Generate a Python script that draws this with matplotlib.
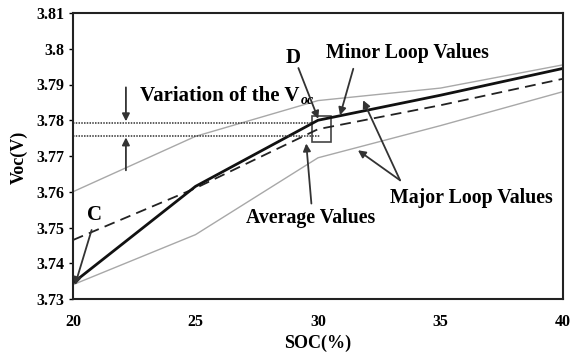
import matplotlib
matplotlib.use("Agg")
import matplotlib.pyplot as plt

# Data
soc = [20, 25, 30, 35, 40]
major_upper = [3.760, 3.7755, 3.7855, 3.789, 3.7955]
major_lower = [3.734, 3.748, 3.7695, 3.7785, 3.788]
minor_loop = [3.7345, 3.7615, 3.7800, 3.787, 3.7945]
average = [3.7465, 3.761, 3.7775, 3.7842, 3.7916]

xticks = [20, 25, 30, 35, 40]
yticks = [3.73, 3.74, 3.75, 3.76, 3.77, 3.78, 3.79, 3.80, 3.81]
ytick_labels = ["3.73", "3.74", "3.75", "3.76", "3.77", "3.78", "3.79", "3.8", "3.81"]

var_levels = [3.7793, 3.7757]

SERIF = "Liberation Serif"
plt.rcParams['font.family'] = [SERIF, 'DejaVu Serif']
plt.rcParams['font.weight'] = 'bold'

fig = plt.figure(figsize=(5.75, 3.52), dpi=100)
ax = fig.add_axes([73/575, 1-299/352, (563-73)/575, (299-13)/352])

gray = '#a8a8a8'
ax.plot(soc, major_upper, color=gray, lw=1.0)
ax.plot(soc, major_lower, color=gray, lw=1.0)
ax.plot(soc, average, color='#222222', lw=1.3, ls=(0, (6, 3.5)))
ax.plot(soc, minor_loop, color='#111111', lw=2.0)

# dotted variation lines
for lv, xe in zip(var_levels, [29.75, 30.1]):
    ax.plot([20, xe], [lv, lv], color='#333333', lw=1.1, ls=(0, (1, 0.8)))

# box at D
ax.add_patch(plt.Rectangle((29.75, 3.7740), 0.8, 0.0072, fill=False,
                           ec='#444444', lw=1.2))

ax.set_xlim(20, 40)
ax.set_ylim(3.73, 3.81)
ax.set_xticks(xticks)
ax.set_yticks(yticks)
ax.set_yticklabels(ytick_labels)
ax.tick_params(axis='y', direction='out', length=3, width=1, pad=3, labelsize=11.5)
ax.tick_params(axis='x', length=0, pad=11, labelsize=11.5)
for lab in ax.get_xticklabels() + ax.get_yticklabels():
    lab.set_fontweight('bold')
for s in ax.spines.values():
    s.set_linewidth(1.5)
    s.set_color('#222222')

fig.text(318/575, 1-343/352, "SOC(%)", ha='center', va='center',
         fontsize=13, fontweight='bold')
fig.text(19/575, 1-157/352, "Voc(V)", ha='center', va='center',
         rotation=90, fontsize=13, fontweight='bold')

ap = dict(arrowstyle='-|>', color='#333333', lw=1.3, mutation_scale=11,
          shrinkA=0, shrinkB=0)

fs = 14.3
# Variation text
t = ax.text(22.75, 3.7855, "Variation of the V", fontsize=15, fontweight='bold',
            ha='left', va='baseline')
fig.canvas.draw()
bb = t.get_window_extent()
ax.text(bb.x1 + 1, bb.y0 + 2, "oc", transform=None, fontsize=10,
        fontweight='bold', fontstyle='italic', ha='left', va='baseline')

ax.annotate("", xy=(22.16, 3.7797), xytext=(22.16, 3.7892), arrowprops=ap)
ax.annotate("", xy=(22.16, 3.7752), xytext=(22.16, 3.7660), arrowprops=ap)

ax.text(20.88, 3.7535, "C", fontsize=15, fontweight='bold', ha='center', va='center')
ax.annotate("", xy=(20.08, 3.7339), xytext=(20.76, 3.7493), arrowprops=ap)

ax.text(28.98, 3.7975, "D", fontsize=15, fontweight='bold', ha='center', va='center')
ax.annotate("", xy=(30.01, 3.7804), xytext=(29.2, 3.7946), arrowprops=ap)

ax.text(30.33, 3.7987, "Minor Loop Values", fontsize=fs, fontweight='bold',
        ha='left', va='center')
ax.annotate("", xy=(30.9, 3.7814), xytext=(31.44, 3.7944), arrowprops=ap)

ax.text(29.7, 3.7526, "Average Values", fontsize=fs, fontweight='bold',
        ha='center', va='center')
ax.annotate("", xy=(29.52, 3.7735), xytext=(29.73, 3.7567), arrowprops=ap)

ax.text(36.24, 3.7582, "Major Loop Values", fontsize=fs, fontweight='bold',
        ha='center', va='center')
ax.annotate("", xy=(31.84, 3.7856), xytext=(33.35, 3.7632), arrowprops=ap)
ax.annotate("", xy=(31.63, 3.7716), xytext=(33.35, 3.7632), arrowprops=ap)

fig.savefig("out.png", dpi=100)
